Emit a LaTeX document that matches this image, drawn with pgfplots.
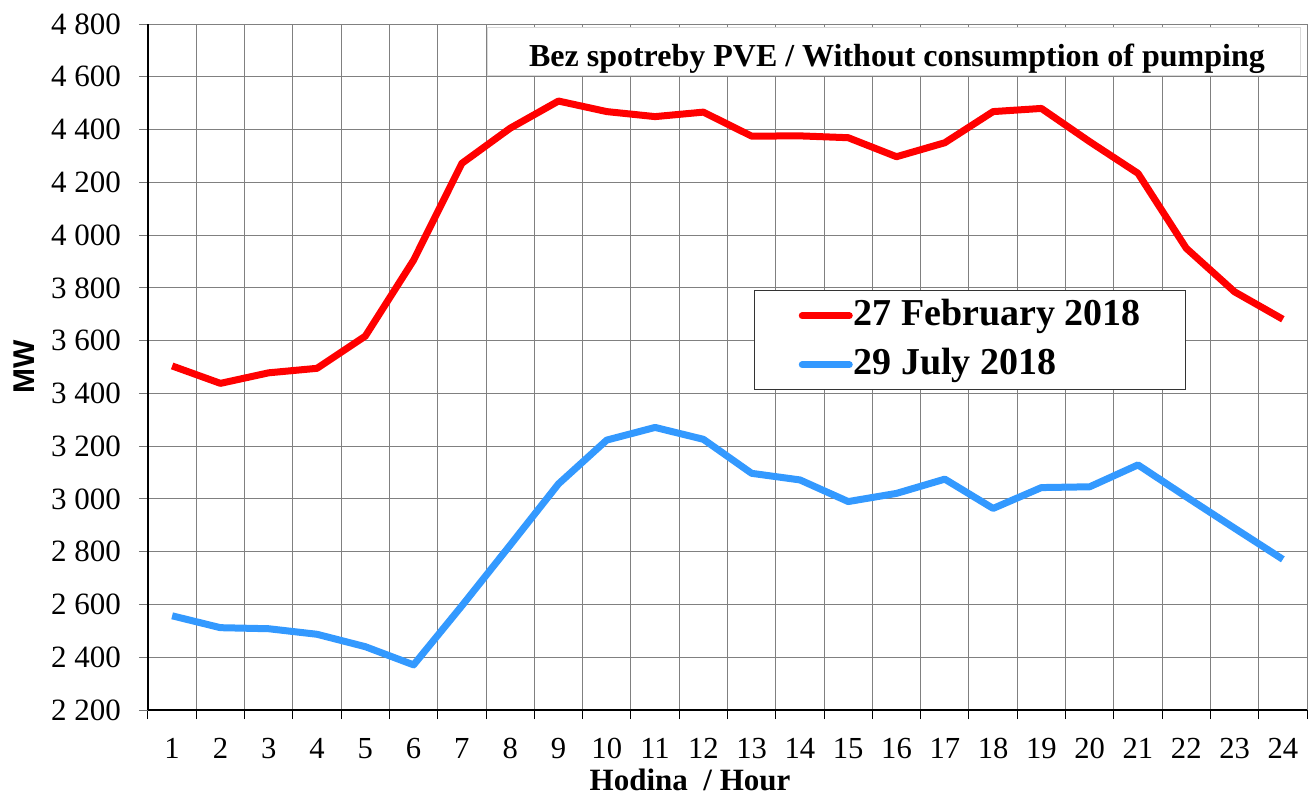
\documentclass[border=0pt]{standalone}
\usepackage{pgfplots}
\pgfplotsset{compat=1.18}
\usepackage{fontspec}
\setmainfont{Liberation Serif}
\newfontfamily\arialfont{Liberation Sans}
\definecolor{cred}{RGB}{255,0,0}
\definecolor{cblue}{RGB}{51,153,255}
\begin{document}
\begin{tikzpicture}
\useasboundingbox (-74pt,-42pt) rectangle (580pt,355pt);
\begin{axis}[
  at={(0,0)}, anchor=south west,
  scale only axis, width=579.5pt, height=343pt,
  xmin=0.5, xmax=24.5, ymin=2200, ymax=4800,
  clip=false,
  axis x line*=bottom, axis y line*=left,
  axis line style={black, line width=0.6pt, -},
  tick align=outside,
  major tick length=4.5pt,
  xtick={0.5,1.5,...,24.5},
  xticklabel={\pgfmathtruncatemacro\hr{\tick+0.5}\ifnum\hr<25 \hr\fi},
  x tick label style={xshift=12.07pt, yshift=-6pt, font=\fontsize{15.3}{18}\selectfont},
  ytick={2200,2400,...,4800},
  yticklabel style={xshift=-5.5pt, font=\fontsize{15.5}{18}\selectfont, /pgf/number format/.cd, 1000 sep={\ }, assume math mode=true},
  xtick style={black, line width=0.5pt},
  ytick style={black!55, line width=0.5pt},
  grid=major,
  major grid style={black!50, line width=0.5pt},
  legend style={at={(0.523,0.612)}, anchor=north west, draw=black!80, line width=0.6pt, fill=white,
    font=\bfseries\fontsize{19}{23}\selectfont, inner xsep=22pt, inner ysep=2.5pt, row sep=4.5pt,
    nodes={inner xsep=0.5pt, inner ysep=1pt, text height=14pt, text depth=4pt}},
  legend cell align=left,
  legend image code/.code={\draw[#1, line cap=round] (0pt,0pt) -- (23.5pt,0pt);},
]
\addplot[cred, line width=3.5pt, line join=round] coordinates {
(1,3504) (2,3438) (3,3478) (4,3495) (5,3617) (6,3905) (7,4272) (8,4405)
(9,4508) (10,4468) (11,4449) (12,4466) (13,4375) (14,4376) (15,4369) (16,4297)
(17,4350) (18,4468) (19,4480) (20,4354) (21,4234) (22,3950) (23,3785) (24,3681)
};
\addplot[cblue, line width=3.5pt, line join=round] coordinates {
(1,2557) (2,2512) (3,2508) (4,2487) (5,2440) (6,2371) (7,2595) (8,2825)
(9,3057) (10,3223) (11,3271) (12,3226) (13,3097) (14,3072) (15,2990) (16,3021)
(17,3075) (18,2964) (19,3043) (20,3046) (21,3129) (22,3008) (23,2889) (24,2771)
};
\legend{27 February 2018, 29 July 2018}
\path[fill=white, draw=black!15, line width=0.5pt] (axis cs:7.52,4603) rectangle (axis cs:24.36,4785);
\node[font=\bfseries\fontsize{16}{18}\selectfont] at (axis cs:16.01,4669) {Bez spotreby PVE / Without consumption of pumping};
\node[font=\bfseries\fontsize{15.5}{18}\selectfont, anchor=base, inner sep=0pt] at ([yshift=-40pt]rel axis cs:0.4677,0) {Hodina\ \ / Hour};
\node[font=\arialfont\bfseries\fontsize{15}{18}\selectfont, rotate=90] at ([xshift=-62pt]rel axis cs:0,0.5) {MW};
\end{axis}
\end{tikzpicture}
\end{document}
